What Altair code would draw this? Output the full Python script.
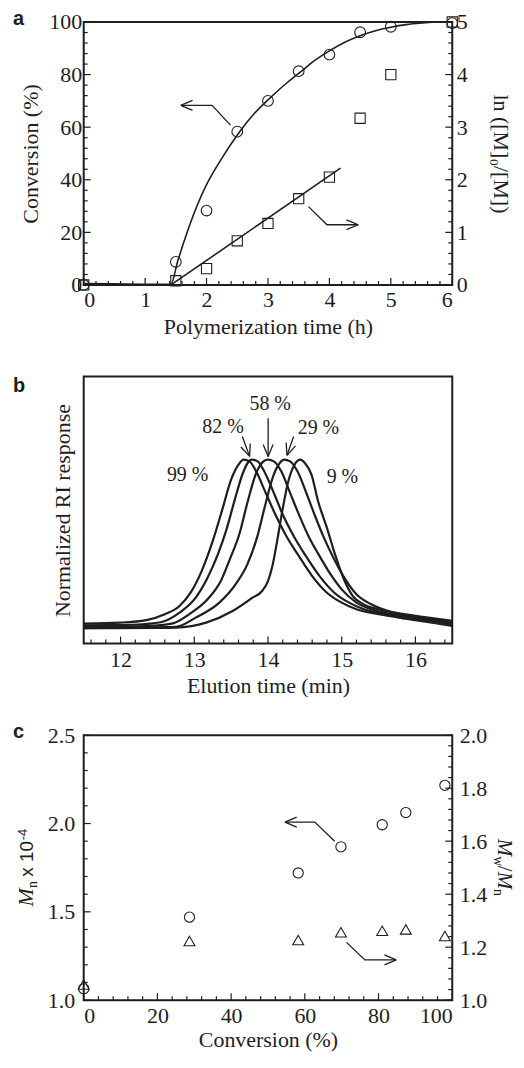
import altair as alt
import pandas as pd

SERIF = "Liberation Serif"
SANS = "Liberation Sans"
INK = "#1e1e1e"

W = 370
H_A, H_B, H_C = 264, 268, 266
FS = 22

# ---------------- Panel a data ----------------
a_time = [0, 1.5, 2, 2.5, 3, 3.5, 4, 4.5, 5, 6]
a_conversion = [0, 8.8, 28.3, 58.3, 70.0, 81.3, 87.6, 96.1, 98.2, 99.6]
a_ln_ratio = [0, 0.08, 0.31, 0.84, 1.17, 1.64, 2.05, 3.17, 4.0, 5.0]

a_fit_time = [0, 0.5, 1.0, 1.42, 1.53, 1.69, 1.85, 2.01, 2.23, 2.53, 2.77, 3.01,
              3.31, 3.53, 3.75, 4.0, 4.25, 4.5, 4.75, 5.0, 5.25, 5.5, 5.75, 6.0]
a_fit_conv = [0.5, 0.4, 0.3, 0.3, 9.0, 20.4, 30.4, 38.6, 47.5, 58.0, 65.0, 70.6,
              76.9, 81.0, 85.2, 89.0, 92.3, 94.8, 96.7, 98.0, 99.0, 99.6, 100, 100]
a_lin_time = [1.42, 4.18]
a_lin_ln = [0.0, 2.22]

a_arrow_left_t = [2.39, 2.09, 1.58]
a_arrow_left_v = [60.8, 68.3, 68.3]
a_arrow_right_t = [3.66, 3.96, 4.47]
a_arrow_right_v = [29.8, 22.9, 22.9]

a_x_major = [0, 1, 2, 3, 4, 5, 6]
a_yl_major = [0, 20, 40, 60, 80, 100]
a_yr_major = [0, 1, 2, 3, 4, 5]

# ---------------- Panel b data ----------------
b_t_99 = [11.5, 12.0, 12.35, 12.6, 12.8, 12.95, 13.1, 13.25, 13.38, 13.5, 13.6, 13.67,
          13.75, 13.85, 13.97, 14.1, 14.25, 14.42, 14.6, 14.8, 15.0, 15.2, 15.5, 16.0, 16.5]
b_h_99 = [0.014, 0.02, 0.035, 0.07, 0.12, 0.2, 0.33, 0.51, 0.70, 0.88, 0.97, 1.0,
          0.99, 0.92, 0.80, 0.67, 0.54, 0.42, 0.30, 0.20, 0.14, 0.10, 0.07, 0.035, 0.0]
b_t_82 = [11.5, 12.0, 12.3, 12.57, 12.8, 13.02, 13.18, 13.32, 13.43, 13.55, 13.66, 13.74,
          13.78, 13.86, 13.96, 14.08, 14.2, 14.35, 14.5, 14.7, 14.9, 15.1, 15.3, 15.6, 16.0, 16.5]
b_h_82 = [0.004, 0.005, 0.01, 0.025, 0.08, 0.17, 0.29, 0.43, 0.57, 0.76, 0.92, 0.99,
          1.0, 0.99, 0.92, 0.80, 0.67, 0.54, 0.43, 0.30, 0.20, 0.14, 0.10, 0.07, 0.045, 0.01]
b_t_58 = [11.5, 12.0, 12.4, 12.71, 12.93, 13.18, 13.36, 13.49, 13.61, 13.72, 13.84, 13.94,
          14.0, 14.08, 14.18, 14.3, 14.42, 14.55, 14.7, 14.85, 15.0, 15.2, 15.4, 15.7, 16.0, 16.5]
b_h_58 = [-0.006, -0.005, 0.0, 0.015, 0.07, 0.16, 0.27, 0.41, 0.55, 0.74, 0.92, 0.99,
          1.0, 0.99, 0.93, 0.80, 0.67, 0.54, 0.42, 0.31, 0.22, 0.14, 0.10, 0.07, 0.05, 0.015]
b_t_29 = [11.5, 12.0, 12.75, 13.02, 13.34, 13.56, 13.72, 13.85, 13.97, 14.07, 14.16, 14.22,
          14.3, 14.4, 14.52, 14.64, 14.76, 14.9, 15.05, 15.2, 15.4, 15.7, 16.0, 16.5]
b_h_29 = [-0.014, -0.01, -0.005, 0.05, 0.14, 0.25, 0.37, 0.53, 0.74, 0.90, 0.98, 1.0,
          0.99, 0.93, 0.80, 0.66, 0.53, 0.40, 0.28, 0.19, 0.13, 0.08, 0.055, 0.025]
b_t_9 = [11.5, 12.5, 12.75, 13.16, 13.52, 13.79, 13.92, 14.0, 14.06, 14.12, 14.19, 14.27,
         14.36, 14.44, 14.5, 14.59, 14.68, 14.8, 14.91, 15.04, 15.15, 15.3, 15.5, 15.94, 16.5]
b_h_9 = [-0.014, -0.012, -0.01, 0.02, 0.09, 0.17, 0.21, 0.27, 0.36, 0.50, 0.68, 0.86,
         0.97, 1.0, 0.98, 0.91, 0.75, 0.59, 0.43, 0.27, 0.18, 0.13, 0.10, 0.065, 0.03]

b_label_text = ["58 %", "82 %", "29 %", "99 %", "9 %"]
b_label_t = [14.03, 13.39, 14.685, 12.91, 15.01]
b_label_h = [1.337, 1.196, 1.19, 0.91, 0.896]

b_arrow82_t = [13.652, 13.751]
b_arrow82_h = [1.14, 1.02]
b_arrow58_t = [14.002, 14.002]
b_arrow58_h = [1.25, 1.02]
b_arrow29_t = [14.348, 14.258]
b_arrow29_h = [1.14, 1.026]

b_x_major = [12, 13, 14, 15, 16]

# ---------------- Panel c data ----------------
c_conv = [0, 28.7, 58.2, 69.8, 81.0, 87.4, 98.0]
c_mn = [1.064, 1.47, 1.72, 1.868, 1.993, 2.062, 2.216]
c_pdi = [1.059, 1.223, 1.227, 1.256, 1.262, 1.267, 1.242]

c_arrow_left_x = [68.1, 62.7, 54.6]
c_arrow_left_v = [1.90, 2.008, 2.008]
c_arrow_right_x = [71.3, 76.3, 84.8]
c_arrow_right_v = [1.327, 1.228, 1.228]

c_x_major = [0, 20, 40, 60, 80, 100]
c_yl_major = [1.0, 1.5, 2.0, 2.5]
c_yr_major = [1.0, 1.2, 1.4, 1.6, 1.8, 2.0]


def minor(lo, hi, step, majors):
    n = int(round((hi - lo) / step))
    out = []
    for i in range(n + 1):
        v = round(lo + i * step, 4)
        if all(abs(v - m) > 1e-6 for m in majors):
            out.append(v)
    return out


CHEVRON = "M0,0L1,-0.42M0,0L1,0.42"   # open arrow head pointing left, tip at origin
ONE = pd.DataFrame({"k": [0]})


def head(df, x, y, angle):
    return alt.Chart(df).mark_point(shape=CHEVRON, size=560, filled=False, color=INK,
                                    strokeWidth=1.3, angle=angle, opacity=1).encode(x=x, y=y)


def poly(df, x, y, width=1.3):
    return alt.Chart(df).mark_line(color=INK, strokeWidth=width).encode(x=x, y=y, order="o:Q")


def label_text(txt, dx, dy, size=FS, font=SERIF, style="normal", weight="normal", angle=0,
               align="left", baseline="alphabetic"):
    return alt.Chart(ONE).mark_text(text=txt, font=font, fontSize=size, fontStyle=style,
                                    fontWeight=weight, angle=angle, align=align,
                                    baseline=baseline, color=INK).encode(
        x=alt.value(dx), y=alt.value(dy))


def xticks(vals, field, xenc, H, length):
    return alt.Chart(pd.DataFrame({field: vals})).mark_rule(color=INK, strokeWidth=1.2).encode(
        x=xenc, y=alt.value(H), y2=alt.value(H - length))


def yticks(vals, yenc, x0, length):
    return alt.Chart(pd.DataFrame({"v": vals})).mark_rule(color=INK, strokeWidth=1.2).encode(
        y=yenc, x=alt.value(x0), x2=alt.value(x0 + length))


AX = dict(labelFont=SERIF, labelFontSize=FS, titleFont=SERIF, titleFontSize=FS)

# ================= Panel a =================
xa = alt.X("t:Q", scale=alt.Scale(domain=[0, 6], nice=False, zero=False),
           axis=alt.Axis(values=a_x_major, format="d", title="Polymerization time (h)",
                         labelPadding=5, titlePadding=6, **AX))
ya_l = alt.Y("v:Q", scale=alt.Scale(domain=[0, 100], nice=False, zero=False),
             axis=alt.Axis(values=a_yl_major, format="d", title="Conversion (%)", orient="left",
                           labelPadding=2, titlePadding=6, **AX))
ya_r = alt.Y("v:Q", scale=alt.Scale(domain=[0, 5], nice=False, zero=False),
             axis=alt.Axis(values=a_yr_major, format="d", title="ln ([M]\u2080/[M])", orient="right",
                           labelPadding=4, titlePadding=21, **AX))

a_arrL = pd.DataFrame({"t": a_arrow_left_t, "v": a_arrow_left_v, "o": [0, 1, 2]})
a_arrR = pd.DataFrame({"t": a_arrow_right_t, "v": a_arrow_right_v, "o": [0, 1, 2]})

a_left = alt.layer(
    alt.Chart(pd.DataFrame({"t": a_fit_time, "v": a_fit_conv})).mark_line(
        color=INK, strokeWidth=1.6, interpolate="monotone").encode(x=xa, y=ya_l),
    alt.Chart(pd.DataFrame({"t": a_time, "v": a_conversion})).mark_point(
        shape="circle", size=115, filled=False, color=INK, strokeWidth=1.1, opacity=1).encode(x=xa, y=ya_l),
    poly(a_arrL, xa, ya_l),
    poly(a_arrR, xa, ya_l),
    head(a_arrL.tail(1), xa, ya_l, 0),
    head(a_arrR.tail(1), xa, ya_l, 180),
    xticks(a_x_major, "t", xa, H_A, 7),
    xticks(minor(0, 6, 0.2, a_x_major), "t", xa, H_A, 4),
    yticks(a_yl_major, ya_l, 0, 7),
    yticks(minor(0, 100, 4, a_yl_major), ya_l, 0, 4),
    label_text("a", -71, 3, size=20, font=SANS, weight="bold"),
)
a_right = alt.layer(
    alt.Chart(pd.DataFrame({"t": a_lin_time, "v": a_lin_ln})).mark_line(
        color=INK, strokeWidth=1.6).encode(x=xa, y=ya_r),
    alt.Chart(pd.DataFrame({"t": a_time, "v": a_ln_ratio})).mark_point(
        shape="square", size=105, filled=False, color=INK, strokeWidth=1.1, opacity=1).encode(x=xa, y=ya_r),
    yticks(a_yr_major, ya_r, W, -7),
    yticks(minor(0, 5, 0.2, a_yr_major), ya_r, W, -4),
)
panel_a = alt.layer(a_left, a_right).resolve_scale(y="independent").properties(width=W, height=H_A)

# ================= Panel b =================
xb = alt.X("t:Q", scale=alt.Scale(domain=[11.5, 16.5], nice=False, zero=False),
           axis=alt.Axis(values=b_x_major, format="d", title="Elution time (min)",
                         labelPadding=6, titlePadding=5, **AX))
yb = alt.Y("h:Q", scale=alt.Scale(domain=[-0.106, 1.5], nice=False, zero=False),
           axis=alt.Axis(labels=False, title="Normalized RI response", titlePadding=9, **AX))

frames = []
for name, ts, hs in [("99", b_t_99, b_h_99), ("82", b_t_82, b_h_82), ("58", b_t_58, b_h_58),
                     ("29", b_t_29, b_h_29), ("9", b_t_9, b_h_9)]:
    frames.append(pd.DataFrame({"t": ts, "h": hs, "s": name, "o": list(range(len(ts)))}))
b_curves = pd.concat(frames, ignore_index=True)

b_labels = pd.DataFrame({"t": b_label_t, "h": b_label_h, "txt": b_label_text})


def b_arrow(ts, hs, angle):
    df = pd.DataFrame({"t": ts, "h": hs, "o": [0, 1]})
    return [poly(df, xb, yb, 1.3), head(df.tail(1), xb, yb, angle)]


panel_b = alt.layer(
    alt.Chart(b_curves).mark_line(color=INK, strokeWidth=2.2, interpolate="monotone").encode(
        x=xb, y=yb, detail="s:N", order="o:Q"),
    alt.Chart(b_labels).mark_text(font=SERIF, fontSize=20, color=INK).encode(
        x=xb, y=yb, text="txt:N"),
    *b_arrow(b_arrow82_t, b_arrow82_h, 250),
    *b_arrow(b_arrow58_t, b_arrow58_h, 270),
    *b_arrow(b_arrow29_t, b_arrow29_h, 289),
    xticks(b_x_major, "t", xb, H_B, 7),
    xticks(minor(11.6, 16.4, 0.2, b_x_major), "t", xb, H_B, 4),
    label_text("b", -71, 15, size=20, font=SANS, weight="bold"),
).properties(width=W, height=H_B)

# ================= Panel c =================
xc = alt.X("c:Q", scale=alt.Scale(domain=[0, 100], nice=False, zero=False),
           axis=alt.Axis(values=c_x_major, format="d", title="Conversion (%)",
                         labelPadding=5, titlePadding=4, **AX))
yc_l = alt.Y("v:Q", scale=alt.Scale(domain=[1.0, 2.5], nice=False, zero=False),
             axis=alt.Axis(values=c_yl_major, format=".1f", title=None, orient="left",
                           labelPadding=9, **AX))
yc_r = alt.Y("v:Q", scale=alt.Scale(domain=[1.0, 2.0], nice=False, zero=False),
             axis=alt.Axis(values=c_yr_major, format=".1f", title=None, orient="right",
                           labelPadding=7, **AX))

c_arrL = pd.DataFrame({"c": c_arrow_left_x, "v": c_arrow_left_v, "o": [0, 1, 2]})
c_arrR = pd.DataFrame({"c": c_arrow_right_x, "v": c_arrow_right_v, "o": [0, 1, 2]})

# rich axis titles (italic M with sub/superscripts), built piecewise
y0 = H_C / 2 + 39
left_title = [
    label_text("M", -51, y0, size=22, style="italic", angle=270),
    label_text("n", -47, y0 - 18.5, size=14, angle=270),
    label_text("x 10", -51, y0 - 30, size=19, font=SANS, angle=270),
    label_text("-4", -57, y0 - 66.5, size=13, font=SANS, angle=270),
]
rx = W + 46
ry = H_C / 2 - 29
right_title = [
    label_text("M", rx, ry, size=21, style="italic", angle=90),
    label_text("w", rx - 4, ry + 17.5, size=14, angle=90),
    label_text("/", rx, ry + 27, size=21, angle=90),
    label_text("M", rx, ry + 33, size=21, style="italic", angle=90),
    label_text("n", rx - 4, ry + 50.5, size=14, angle=90),
]

c_left = alt.layer(
    alt.Chart(pd.DataFrame({"c": c_conv, "v": c_mn})).mark_point(
        shape="circle", size=105, filled=False, color=INK, strokeWidth=1.1, opacity=1).encode(x=xc, y=yc_l),
    poly(c_arrL, xc, yc_l),
    poly(c_arrR, xc, yc_l),
    head(c_arrL.tail(1), xc, yc_l, 0),
    head(c_arrR.tail(1), xc, yc_l, 180),
    xticks(c_x_major, "c", xc, H_C, 7),
    xticks(minor(0, 100, 4, c_x_major), "c", xc, H_C, 4),
    yticks(c_yl_major, yc_l, 0, 7),
    yticks(minor(1.0, 2.5, 0.1, c_yl_major), yc_l, 0, 4),
    label_text("c", -71, 3, size=20, font=SANS, weight="bold"),
    *left_title,
    *right_title,
)
c_right = alt.layer(
    alt.Chart(pd.DataFrame({"c": c_conv, "v": c_pdi})).mark_point(
        shape="triangle-up", size=120, filled=False, color=INK, strokeWidth=1.1, opacity=1).encode(x=xc, y=yc_r),
    yticks(c_yr_major, yc_r, W, -7),
    yticks(minor(1.0, 2.0, 0.04, c_yr_major), yc_r, W, -4),
)
panel_c = alt.layer(c_left, c_right).resolve_scale(y="independent").properties(width=W, height=H_C)

chart = alt.vconcat(panel_a, panel_b, panel_c, spacing=92, bounds="flush").properties(
    padding={"left": 4, "top": -2, "right": 0, "bottom": -1}
).configure_view(stroke=INK, strokeWidth=2).configure_axis(
    domain=False, ticks=False, grid=False,
    labelFont=SERIF, labelFontSize=FS, labelColor=INK,
    titleFont=SERIF, titleFontSize=FS, titleFontWeight="normal", titleColor=INK,
)

chart.save("out.html", embed_options={"renderer": "svg", "actions": False})
